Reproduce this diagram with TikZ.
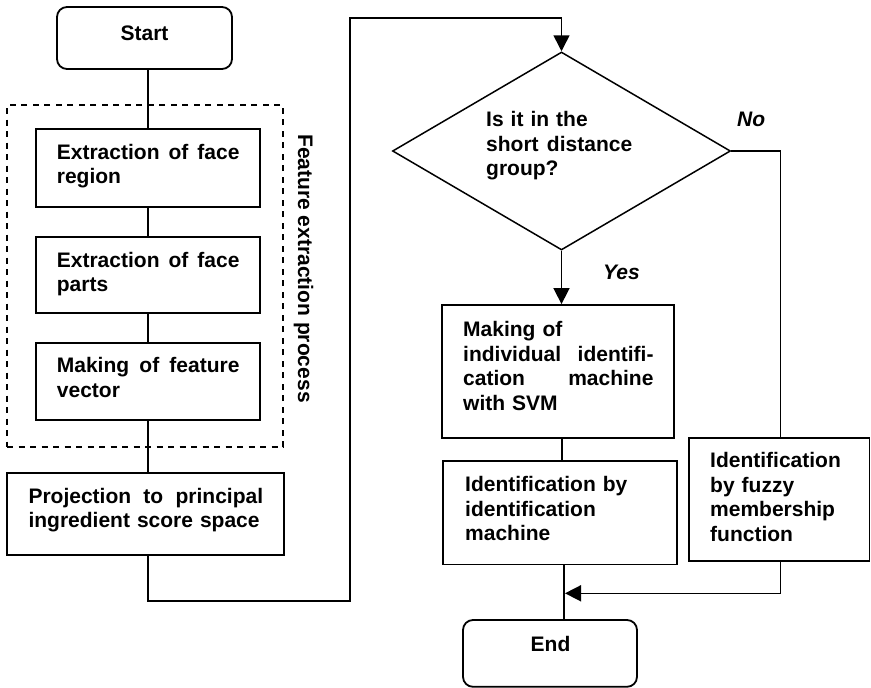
\documentclass[tikz,border=0pt]{standalone}
\usepackage{fontspec}
\setmainfont{Liberation Sans}
\usetikzlibrary{arrows.meta,shapes.geometric}
\begin{document}
\begin{tikzpicture}[x=1pt,y=-1pt,
  box/.style={draw, rectangle, line width=1.8pt, inner sep=0pt},
  term/.style={box, rounded corners=10pt},
  grp/.style={draw, rectangle, line width=1.4pt, dash pattern=on 6pt off 5.5pt, inner sep=0pt},
  decision/.style={draw, diamond, line width=1.5pt, inner sep=0pt},
  txt/.style={inner sep=0pt, font=\fontsize{21}{24.5}\selectfont\bfseries, align=left},
  lbl/.style={inner sep=0pt, font=\fontsize{21}{24.5}\selectfont\bfseries\itshape},
  link/.style={line width=1.6pt},
  flow/.style={link, -{Triangle[length=16pt,width=16pt]}}]

\useasboundingbox (0,0) rectangle (871,688);

% ---- left column ----
\node[term, minimum width=175pt, minimum height=62pt] (start) at (144.5,38) {};
\node[txt, anchor=base] (tstart) at (144.5,40) {Start};

\node[grp, minimum width=276pt, minimum height=342pt] (feat) at (145,276) {};
\node[txt, rotate=-90] (tfeat) at (303.5,268.5) {Feature extraction process};

\node[box, minimum width=224pt, minimum height=78pt] (b1) at (148,168) {};
\node[txt, text width=182.6pt, anchor=base west] (t1) at (56.7,159) {Extraction\hfill of\hfill face\\region};

\node[box, minimum width=224pt, minimum height=76pt] (b2) at (148,275) {};
\node[txt, text width=182.6pt, anchor=base west] (t2) at (56.7,267) {Extraction\hfill of\hfill face\\parts};

\node[box, minimum width=224pt, minimum height=77pt] (b3) at (148,381.5) {};
\node[txt, text width=182.6pt, anchor=base west] (t3) at (56.7,372.7) {Making\hfill of\hfill feature\\vector};

\node[box, minimum width=277pt, minimum height=82pt] (proj) at (145.5,514) {};
\node[txt, text width=234.6pt, anchor=base west] (tproj) at (28.3,503) {Projection\hfill to\hfill principal\\ingredient score space};

% ---- right column ----
\node[decision, minimum width=338pt, minimum height=198pt] (dec) at (561.5,151) {};
\node[txt, text width=146pt, anchor=base west] (tdec) at (486,126.5) {Is it in the\\short\hfill distance\\group?};

\node[box, minimum width=232pt, minimum height=133pt] (mk) at (558,371.5) {};
\node[txt, text width=190.3pt, anchor=base west] (tmk) at (463,336.7) {Making of\\individual\hfill identifi-\\cation\hfill machine\\with SVM};

\node[box, minimum width=234pt, minimum height=103.5pt] (id) at (560,512.75) {};
\node[txt, text width=192pt, anchor=base west] (tid) at (465,491.7) {Identification by\\identification\\machine};

\node[box, minimum width=180.5pt, minimum height=123pt] (fz) at (779.25,499.5) {};
\node[txt, text width=150pt, anchor=base west] (tfz) at (710,467.7) {Identification\\by fuzzy\\membership\\function};

\node[term, minimum width=174pt, minimum height=66.8pt] (en) at (550,653.4) {};
\node[txt, anchor=base] (ten) at (550.5,651.7) {End};

\node[lbl, anchor=base west] (yes) at (603,279) {Yes};
\node[lbl, anchor=base west] (no) at (737,126) {No};

% ---- connectors ----
\coordinate (turnA) at (350,601);
\coordinate (turnB) at (350,18);
\coordinate (merge) at (565,593.3);

\draw[link] (start.south -| b1.north) -- (b1.north);
\draw[link] (b1.south) -- (b2.north);
\draw[link] (b2.south) -- (b3.north);
\draw[link] (b3.south) -- (b3.south |- proj.north);
\draw[flow] (b3.south |- proj.south) |- (turnA) -- (turnB) -| (dec.north);
\draw[flow] (dec.south) -- (dec.south |- mk.north);
\draw[link] (dec.east) -| ([xshift=1.2pt]fz.north);
\draw[link] ([xshift=4pt]mk.south) -- ([xshift=4pt]mk.south |- id.north);
\draw[link] ([xshift=4pt]id.south) -- ([xshift=4pt]id.south |- en.north);
\draw[flow] ([xshift=1.2pt]fz.south) |- (merge);
\end{tikzpicture}
\end{document}
